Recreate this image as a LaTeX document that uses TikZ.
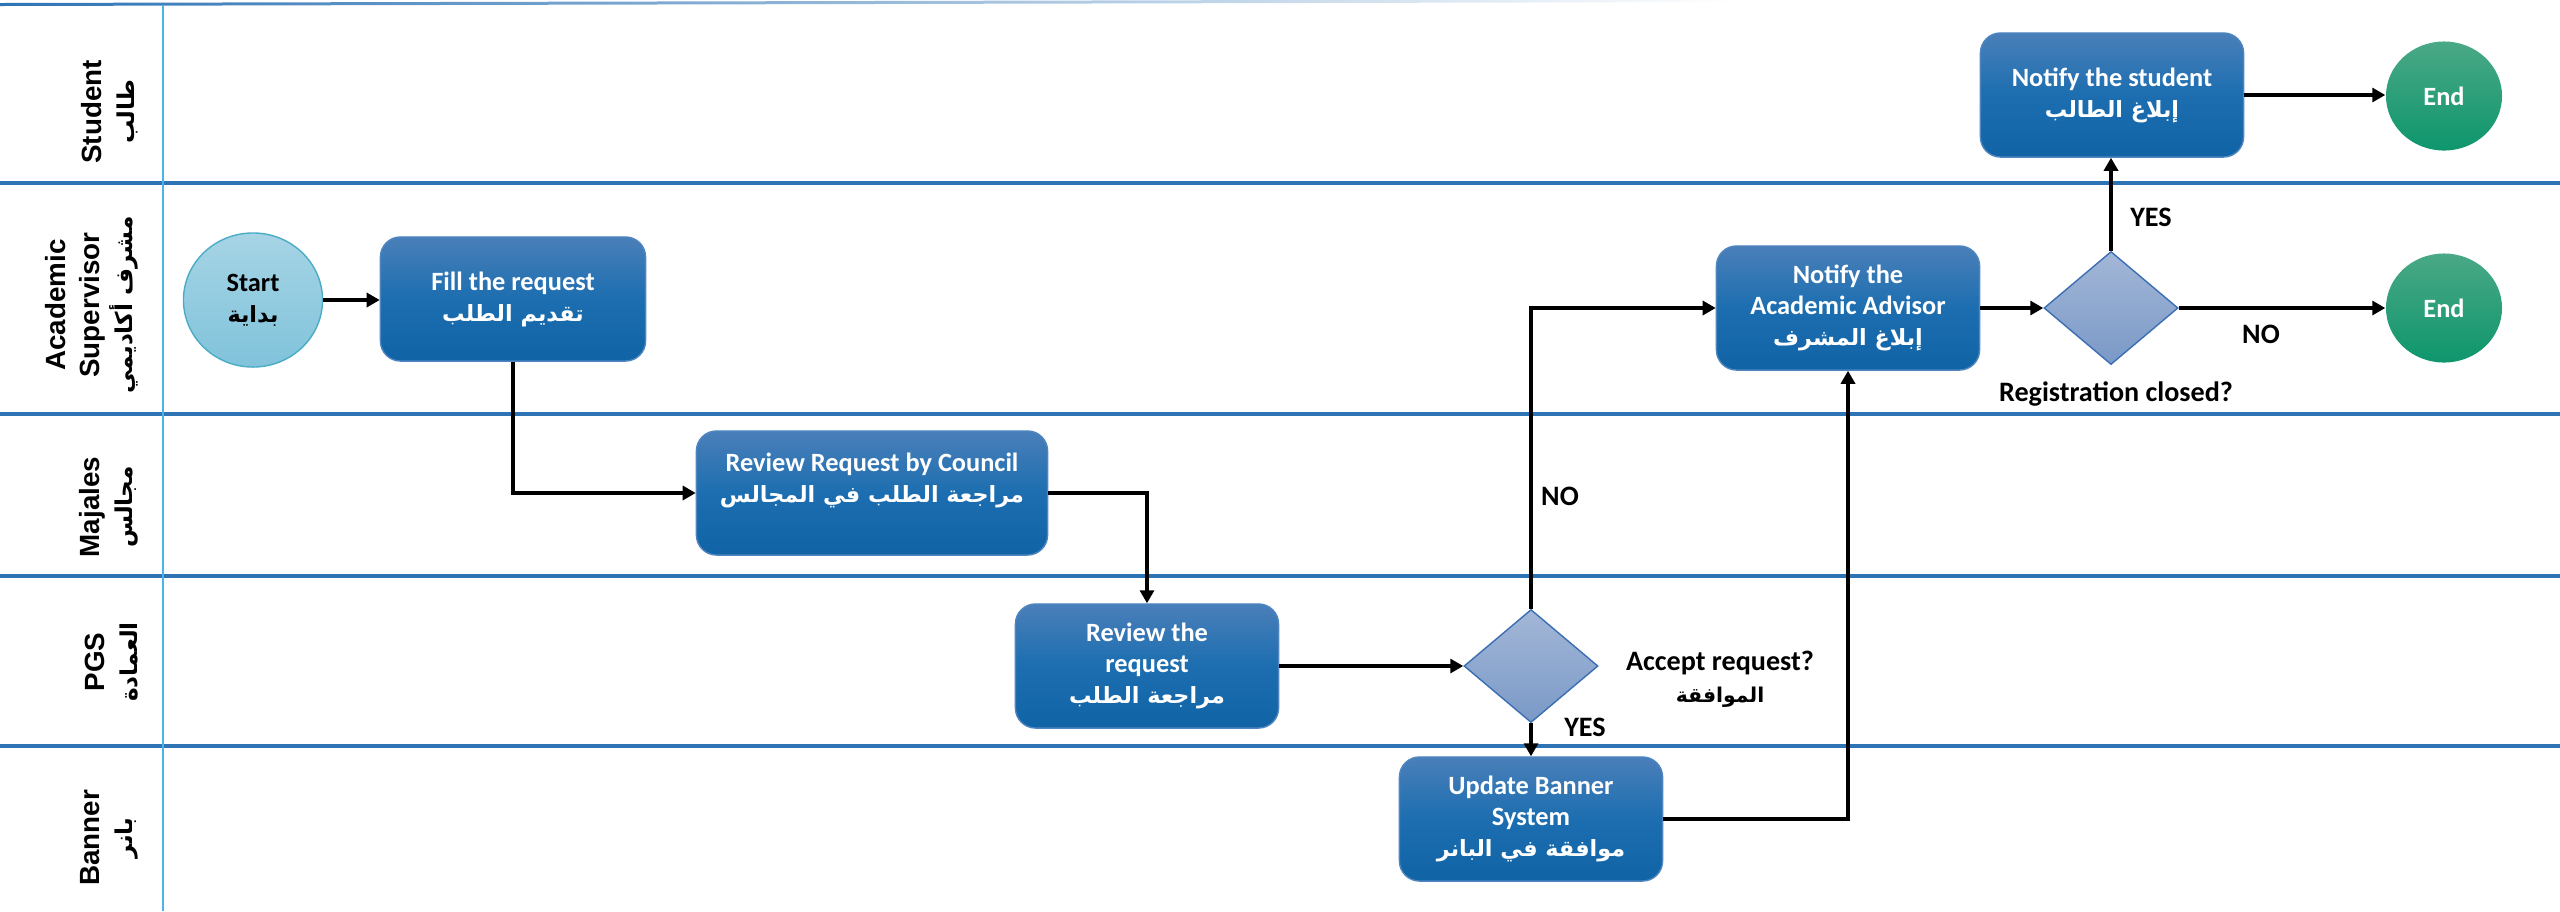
\documentclass[tikz,border=0pt]{standalone}
\usepackage{fontspec}
\setmainfont{Carlito}
\newfontfamily\lanefont{Liberation Sans}
\newfontfamily\arabicfont[Script=Arabic]{DejaVu Sans}
\TeXXeTstate=1
\usetikzlibrary{positioning, shapes.geometric, arrows.meta}

\definecolor{boxtop}{HTML}{4A7FB9}
\definecolor{boxmid}{HTML}{1C6EB0}
\definecolor{boxbot}{HTML}{1063A5}
\definecolor{boxline}{HTML}{4F86C0}
\definecolor{dectop}{HTML}{A3B7D7}
\definecolor{decbot}{HTML}{7A99C7}
\definecolor{decline}{HTML}{3C6EB4}
\definecolor{starttop}{HTML}{A6D4E5}
\definecolor{startbot}{HTML}{80C3DB}
\definecolor{startline}{HTML}{4BACC6}
\definecolor{endtop}{HTML}{4AA886}
\definecolor{endbot}{HTML}{0E966C}
\definecolor{laneline}{HTML}{2E74B5}
\definecolor{colline}{HTML}{4DB3E6}

% Arabic text, optional size in pt
\newcommand{\artxt}[2][6.35]{{\arabicfont\fontsize{#1}{8.8}\selectfont\beginR #2\endR}}

\begin{document}
\begin{tikzpicture}[x=0.01cm, y=-0.01cm,
    procbox/.style={draw=boxline, line width=0.4pt, rounded corners=0.2cm,
      top color=boxtop, bottom color=boxbot, middle color=boxmid,
      text=white, font=\bfseries\fontsize{7.5}{8.8}\selectfont, align=center,
      minimum width=2.63cm, minimum height=1.24cm, inner sep=0pt},
    decbox/.style={diamond, draw=decline, line width=0.4pt,
      top color=dectop, bottom color=decbot,
      minimum width=1.34cm, minimum height=1.13cm, inner sep=0pt},
    startnode/.style={ellipse, draw=startline, line width=0.4pt,
      top color=starttop, bottom color=startbot,
      font=\bfseries\fontsize{7.5}{8.8}\selectfont, align=center,
      minimum width=1.39cm, minimum height=1.34cm, inner sep=0pt},
    endnode/.style={ellipse, top color=endtop, bottom color=endbot,
      text=white, font=\bfseries\fontsize{7.5}{8.8}\selectfont,
      minimum width=1.16cm, minimum height=1.09cm, inner sep=0pt},
    lbl/.style={font=\bfseries\fontsize{8}{9.2}\selectfont, align=center, inner sep=0pt},
    lanelbl/.style={rotate=90, anchor=south, inner sep=0pt, align=center,
      font=\lanefont\bfseries\fontsize{7.9}{9.5}\selectfont},
    flow/.style={draw, line width=0.9pt, -{Triangle[length=1.3mm, width=1.4mm]}}]

    \useasboundingbox (0,0) rectangle (2560,911);

    % Lanes
    \shade[left color=laneline, right color=white] (0,3) -- (1740,-1) -- (1740,2) -- (0,6) -- cycle;
    \foreach \y in {183,414,576,746} {
      \draw[laneline, line width=1pt] (0,\y) -- (2560,\y);
    }
    \draw[colline, line width=0.6pt] (163,5) -- (163,911);

    % Lane names
    \foreach \n/\y/\t in {student/112/{Student\\\artxt[6.6]{طالب}},
        supervisor/305/{Academic\\Supervisor\\\artxt[6.6]{مشرف أكاديمي}},
        majales/507/{Majales\\\artxt[6.6]{مجالس}},
        pgs/662/{PGS\\\artxt[6.6]{العمادة}},
        banner/838/{Banner\\\artxt[6.6]{بانر}}} {
      \node[lanelbl] (lane\n) at (139,\y) {\t};
    }

    % Steps
    \node[startnode] (start) at (253,300) {Start\\\artxt{بداية}};
    \node[procbox, minimum width=2.65cm] (fill) at (513,299) {Fill the request\\\artxt{تقديم الطلب}};
    \node[procbox, minimum width=3.51cm] (council) at (872,493) {Review Request by Council\\\artxt{مراجعة الطلب في المجالس}\\\mbox{}};
    \node[procbox] (review) at (1147,666) {Review the\\request\\\artxt{مراجعة الطلب}};
    \node[decbox] (accept) at (1531,666) {};
    \node[lbl] (acceptlbl) at (1720,679) {Accept request?\\\artxt[5.8]{الموافقة}};
    \node[procbox] (update) at (1531,819) {Update Banner\\System\\\artxt{موافقة في البانر}};
    \node[procbox] (advisor) at (1848,308) {Notify the\\Academic Advisor\\\artxt{إبلاغ المشرف}};
    \node[decbox] (closed) at (2111,308) {};
    \node[lbl] (closedlbl) at (2116,394) {Registration closed?};
    \node[procbox] (notify) at (2112,95) {Notify the student\\\artxt{إبلاغ الطالب}};
    \node[endnode] (endA) at (2444,96) {End};
    \node[endnode] (endB) at (2444,308) {End};

    % Answers
    \node[lbl] (noA) at (1560,496) {NO};
    \node[lbl] (yesA) at (1585,727) {YES};
    \node[lbl] (yesB) at (2151,217) {YES};
    \node[lbl] (noB) at (2261,334) {NO};

    % Connectors
    \draw[flow] (start) -- (start -| fill.west);
    \draw[flow] (fill) |- (council);
    \draw[flow] (council) -| (review);
    \draw[flow] (review) -- (accept);
    \draw[flow] (accept) -- (update);
    \draw[flow] (accept) |- (advisor);
    \draw[flow] (update) -| (advisor);
    \draw[flow] (advisor) -- (closed);
    \draw[flow] (closed) -- (closed |- notify.south);
    \draw[flow] (closed) -- (endB);
    \draw[flow] (notify) -- (notify -| endA.west);
  \end{tikzpicture}
\end{document}
